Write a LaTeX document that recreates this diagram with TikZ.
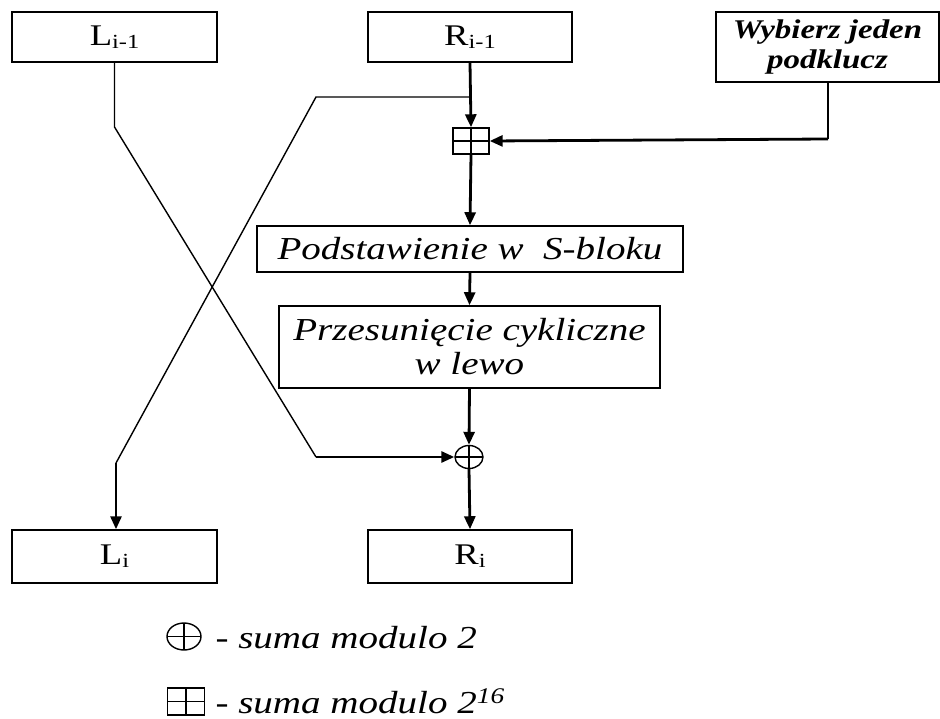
\documentclass[tikz,border=0pt]{standalone}
\usepackage{fontspec}
\setmainfont{Liberation Serif}[FakeStretch=1.22]
\usetikzlibrary{arrows.meta,shapes.geometric}

% symbols for the two kinds of addition, both crossed by a vertical and a horizontal stroke
\tikzset{
  crossed/.style={path picture={
      \draw[line width=1.2pt] (path picture bounding box.north) -- (path picture bounding box.south);
      \draw[line width=1.2pt] (path picture bounding box.west) -- (path picture bounding box.east);}},
  cellbox/.style={draw=black, line width=1.4pt, rectangle, inner sep=0pt,
    minimum width=36pt, minimum height=26pt, crossed},
  xorsym/.style={draw=black, line width=1.4pt, ellipse, inner sep=0pt,
    minimum width=28pt, minimum height=23pt, crossed},
  blk/.style={draw=black, line width=1.5pt, rectangle, inner sep=0pt, align=center},
  thin/.style={line width=1.4pt},
  thick line/.style={line width=2.8pt, -{Triangle[length=13pt,width=11pt]}},
  regfont/.style={font=\fontsize{30}{32}\selectfont},
  stepfont/.style={font=\fontsize{32}{34}\selectfont\itshape},
  keyfont/.style={font=\fontsize{27}{30}\selectfont\bfseries\itshape},
}
\newcommand{\lowidx}[1]{\raisebox{-3pt}{\fontsize{20}{20}\selectfont #1}}

\begin{document}
\begin{tikzpicture}[x=1pt,y=-1pt]
\useasboundingbox (0,0) rectangle (940,719);

% registers
\node[blk, regfont, minimum width=205pt, minimum height=50pt] (L1) at (114.5,37) {L\lowidx{i-1}};
\node[blk, regfont, minimum width=204pt, minimum height=50pt] (R1) at (470,37) {R\lowidx{i-1}};
\node[blk, regfont, minimum width=205pt, minimum height=53pt] (L2) at (114.5,556.5) {L\lowidx{i}};
\node[blk, regfont, minimum width=204pt, minimum height=53pt] (R2) at (470,556.5) {R\lowidx{i}};

% subkey
\node[blk, keyfont, minimum width=223pt, minimum height=70pt] (K) at (827.5,47) {Wybierz jeden\\podklucz};

% round function
\node[cellbox] (add) at (471,141) {};
\node[blk, stepfont, minimum width=426pt, minimum height=46pt] (S) at (470,249) {Podstawienie w\ \ S-bloku};
\node[blk, stepfont, minimum width=381pt, minimum height=82pt] (P) at (469.5,347) {Przesunięcie cykliczne\\w lewo};
\node[xorsym] (x) at (469,457) {};

% bends of the crossing lines
\coordinate (a1) at (114.5,127);
\coordinate (a2) at (316,457);
\coordinate (b0) at (470,97);
\coordinate (b1) at (316,97);
\coordinate (b2) at (116,463);
\coordinate (k1) at (828,139);

% right branch
\draw[thick line] (R1.south) -- (add.north);
\draw[thick line] (add.south) -- (S.north);
\draw[thick line] (S.south) -- (P.north);
\draw[thick line] (P.south) -- (x.north);
\draw[thick line] (x.south) -- (R2.north);

% subkey into the adder
\draw[thin] (K.south -| k1) -- (k1);
\draw[thick line] (k1) -- (add.east);

% left half crosses to the XOR
\draw[thin] (L1.south) -- (a1) -- (a2);
\draw[thick line] (a2) -- (x.west);

% right half crosses to the new left half
\draw[thin] (b0) -- (b1) -- (b2);
\draw[thick line] (b2) -- (b2 |- L2.north);

% legend
\node[xorsym, minimum width=34pt, minimum height=27pt] (lx) at (184,636.5) {};
\node[anchor=base west, stepfont] (tx) at (212,648) {- suma modulo 2};
\node[cellbox, minimum width=37pt, minimum height=27pt] (la) at (186,701.5) {};
\node[anchor=base west, stepfont] (ta) at (212,713) {- suma modulo 2\textsuperscript{16}};
\end{tikzpicture}
\end{document}
